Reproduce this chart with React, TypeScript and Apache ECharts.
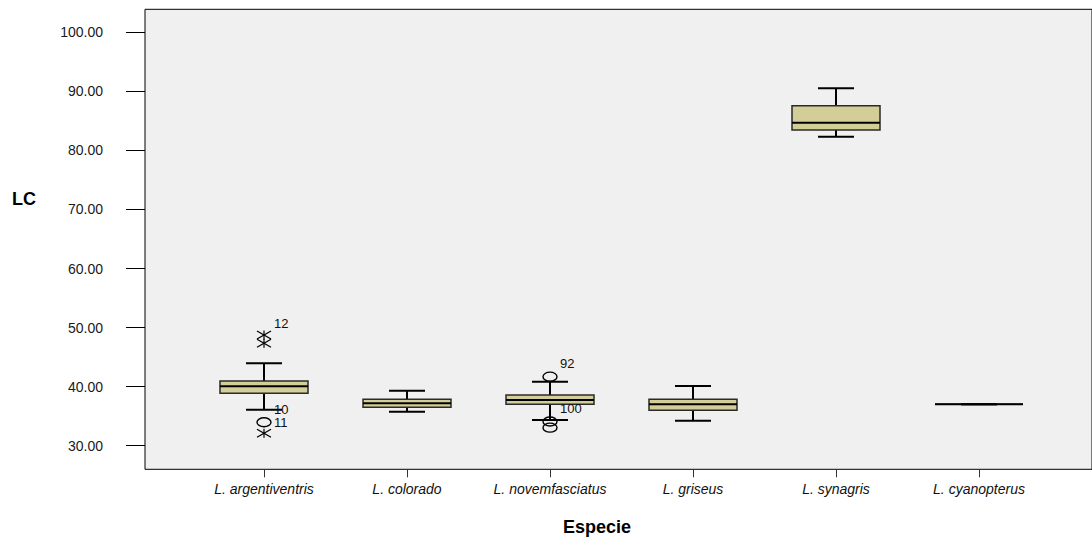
import React, { useEffect, useRef } from "react";
import * as echarts from "echarts";

// ---- data ----
const categories = [
  "L. argentiventris",
  "L. colorado",
  "L. novemfasciatus",
  "L. griseus",
  "L. synagris",
  "L. cyanopterus",
];
const whiskerLow = [36.1, 35.76, 34.35, 34.24, 82.32, 37.01];
const quartile1 = [38.87, 36.5, 37.01, 36.0, 83.46, 37.01];
const medians = [40.06, 37.18, 37.74, 37.01, 84.69, 37.01];
const quartile3 = [40.96, 37.86, 38.59, 37.86, 87.57, 37.01];
const whiskerHigh = [43.96, 39.32, 40.84, 40.11, 90.52, 37.01];

const outlierCategory = [0, 0, 0, 0, 2, 2, 2];
const outlierValue = [48.75, 47.34, 33.97, 32.1, 41.69, 34.1, 33.05];
const outlierKind = ["extreme", "extreme", "outlier", "extreme", "outlier", "outlier", "outlier"];
const outlierLabel = ["12", "", "10", "11", "92", "100", ""];

const yTicks = [30, 40, 50, 60, 70, 80, 90, 100];
const yMin = 26.0;
const yMax = 103.9;

// ---- styles ----
const FONT = "'Liberation Sans', Arial, Helvetica, sans-serif";
const BOX_FILL = "#d3ce97";
const BOX_WIDTH = 88;
const CAP_WIDTH = 36;

export default function App() {
  const ref = useRef<HTMLDivElement>(null);

  useEffect(() => {
    if (!ref.current) return;
    const chart = echarts.init(ref.current, undefined, { renderer: "svg" });

    const boxData = categories.map((_, i) => [
      i,
      whiskerLow[i],
      quartile1[i],
      medians[i],
      quartile3[i],
      whiskerHigh[i],
    ]);
    const outData = outlierValue.map((v, k) => [
      outlierCategory[k],
      v,
      outlierKind[k] === "extreme" ? 1 : 0,
      k,
    ]);

    const option: any = {
      animation: false,
      backgroundColor: "#ffffff",
      grid: [
        {
          left: 145,
          top: 9.3,
          width: 960,
          height: 460,
          show: true,
          backgroundColor: "#f0f0f0",
          borderColor: "#000000",
          borderWidth: 1,
        },
        {
          left: 192.5,
          top: 9.3,
          width: 858,
          height: 460,
          show: false,
        },
      ],
      xAxis: [
        { type: "value", gridIndex: 0, show: false, min: 0, max: 1 },
        {
          type: "category",
          gridIndex: 1,
          data: categories,
          boundaryGap: true,
          axisLine: { show: false },
          axisTick: {
            show: true,
            alignWithLabel: true,
            length: 8,
            lineStyle: { color: "#333", width: 1 },
          },
          axisLabel: {
            interval: 0,
            margin: 13,
            fontSize: 14,
            fontStyle: "italic",
            fontFamily: FONT,
            color: "#111",
          },
          splitLine: { show: false },
        },
      ],
      yAxis: [
        {
          type: "value",
          gridIndex: 0,
          min: yMin,
          max: yMax,
          axisLine: { show: false },
          axisTick: {
            show: true,
            length: 19,
            customValues: yTicks,
            lineStyle: { color: "#000", width: 1 },
          },
          axisLabel: {
            customValues: yTicks,
            margin: 42,
            fontSize: 14,
            fontFamily: FONT,
            color: "#1a1a1a",
            formatter: (v: number) => v.toFixed(2),
          },
          splitLine: { show: false },
        },
        {
          type: "value",
          gridIndex: 1,
          min: yMin,
          max: yMax,
          show: false,
          splitLine: { show: false },
        },
      ],
      graphic: [
        {
          type: "text",
          left: 12,
          top: 190,
          style: {
            text: "LC",
            font: `bold 18px ${FONT}`,
            fill: "#000",
          },
        },
        {
          type: "text",
          x: 597,
          y: 527,
          style: {
            text: "Especie",
            font: `bold 18px ${FONT}`,
            fill: "#000",
            textAlign: "center",
            textVerticalAlign: "middle",
            verticalAlign: "middle",
          },
        },
      ],
      series: [
        {
          type: "custom",
          xAxisIndex: 1,
          yAxisIndex: 1,
          data: boxData,
          encode: { x: 0, y: [1, 2, 3, 4, 5] },
          renderItem: (params: any, api: any) => {
            const i = api.value(0);
            const x = api.coord([i, api.value(3)])[0];
            const yLo = api.coord([i, api.value(1)])[1];
            const yQ1 = api.coord([i, api.value(2)])[1];
            const yMed = api.coord([i, api.value(3)])[1];
            const yQ3 = api.coord([i, api.value(4)])[1];
            const yHi = api.coord([i, api.value(5)])[1];
            const ls = { stroke: "#000", lineWidth: 2 };
            return {
              type: "group",
              children: [
                { type: "line", shape: { x1: x, y1: yQ3, x2: x, y2: yHi }, style: ls },
                { type: "line", shape: { x1: x, y1: yQ1, x2: x, y2: yLo }, style: ls },
                {
                  type: "line",
                  shape: { x1: x - CAP_WIDTH / 2, y1: yHi, x2: x + CAP_WIDTH / 2, y2: yHi },
                  style: ls,
                },
                {
                  type: "line",
                  shape: { x1: x - CAP_WIDTH / 2, y1: yLo, x2: x + CAP_WIDTH / 2, y2: yLo },
                  style: ls,
                },
                {
                  type: "rect",
                  shape: { x: x - BOX_WIDTH / 2, y: yQ3, width: BOX_WIDTH, height: yQ1 - yQ3 },
                  style: { fill: BOX_FILL, stroke: "#2a2a2a", lineWidth: 1.5 },
                },
                {
                  type: "line",
                  shape: { x1: x - BOX_WIDTH / 2, y1: yMed, x2: x + BOX_WIDTH / 2, y2: yMed },
                  style: { stroke: "#000", lineWidth: 2 },
                },
              ],
            };
          },
          z: 2,
        },
        {
          type: "custom",
          xAxisIndex: 1,
          yAxisIndex: 1,
          data: outData,
          encode: { x: 0, y: 1 },
          renderItem: (params: any, api: any) => {
            const pt = api.coord([api.value(0), api.value(1)]);
            const cx = pt[0];
            const cy = pt[1];
            const extreme = api.value(2) === 1;
            const k = api.value(3);
            const st = { stroke: "#000", lineWidth: 1.2, fill: "none" };
            const children: any[] = [];
            if (extreme) {
              children.push(
                { type: "line", shape: { x1: cx, y1: cy - 4.5, x2: cx, y2: cy + 4.5 }, style: st },
                { type: "line", shape: { x1: cx - 7, y1: cy - 4, x2: cx + 7, y2: cy + 4 }, style: st },
                { type: "line", shape: { x1: cx - 7, y1: cy + 4, x2: cx + 7, y2: cy - 4 }, style: st }
              );
            } else {
              children.push({
                type: "ellipse",
                shape: { cx, cy, rx: 7, ry: 4.5 },
                style: { stroke: "#000", lineWidth: 1.4, fill: "rgba(0,0,0,0)" },
              });
            }
            const lab = outlierLabel[k];
            if (lab) {
              children.push({
                type: "text",
                x: cx + 10,
                y: cy - (extreme ? 11 : 13),
                style: {
                  text: lab,
                  font: `13px ${FONT}`,
                  fill: "#111",
                  textAlign: "left",
                  textVerticalAlign: "middle",
                  verticalAlign: "middle",
                },
              });
            }
            return { type: "group", children };
          },
          z: 3,
        },
      ],
    };

    chart.setOption(option);
    return () => chart.dispose();
  }, []);

  return (
    <div
      ref={ref}
      style={{ position: "fixed", left: 0, top: 0, width: 1092, height: 541 }}
    />
  );
}
